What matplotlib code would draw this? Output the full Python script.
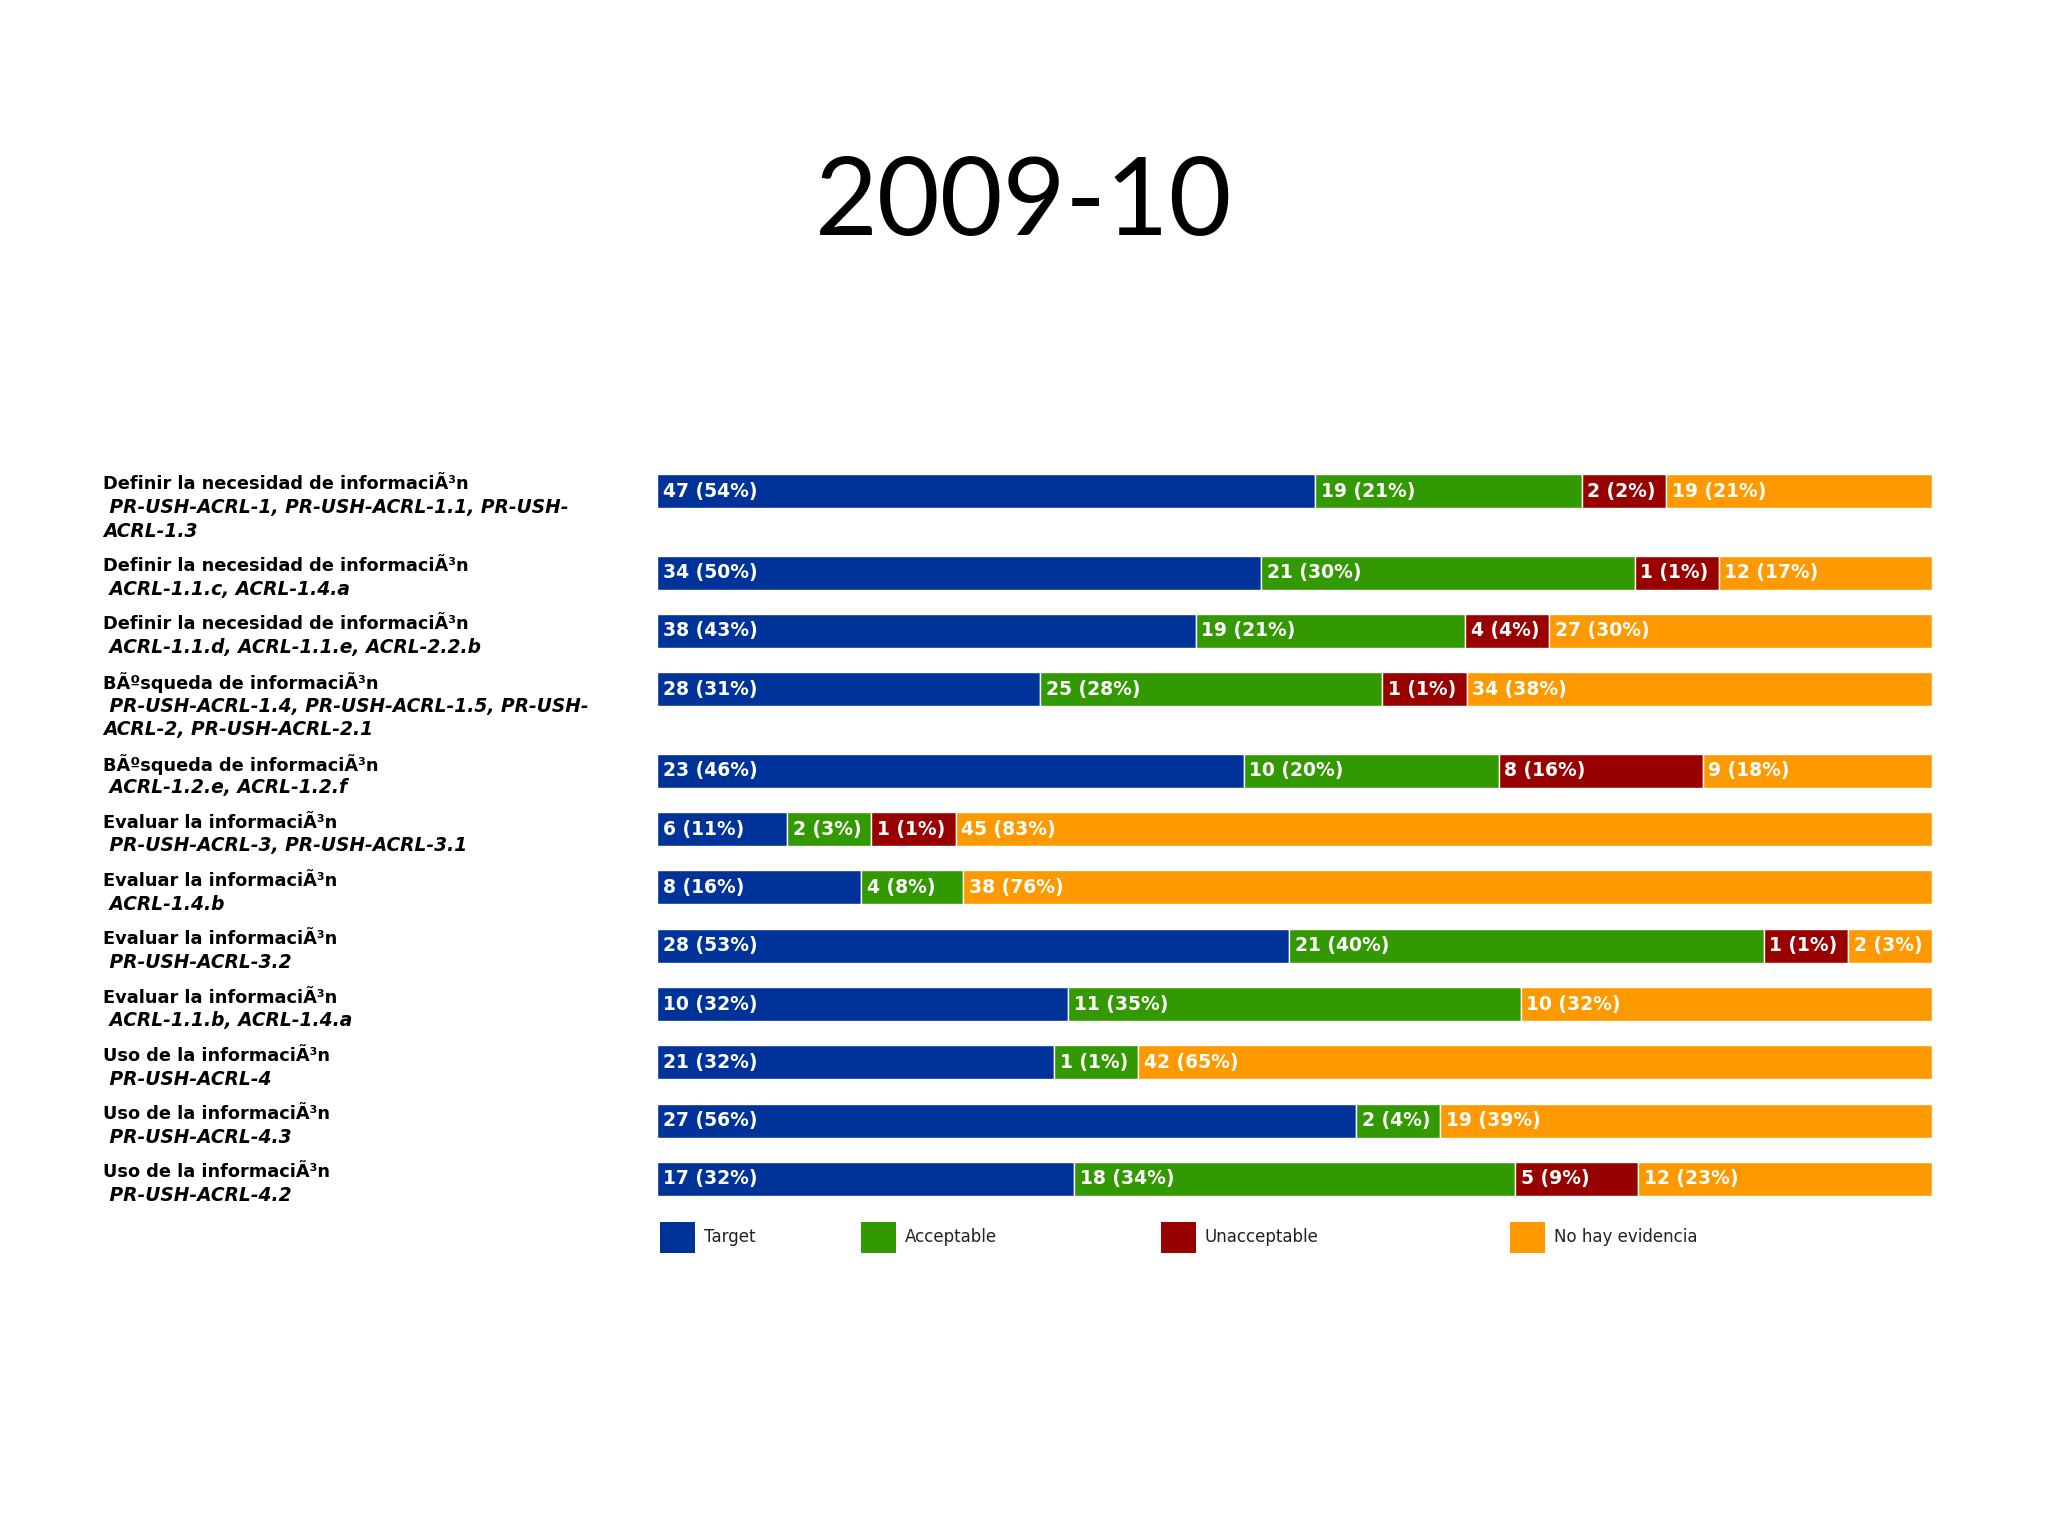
import numpy as np
import matplotlib
matplotlib.use("Agg")
import matplotlib.pyplot as plt
import matplotlib.transforms as mtransforms
from matplotlib.patches import Rectangle

# ---------------- data ----------------
title = "2009-10"
label_main = (["Definir la necesidad de informaciÃ³n"] * 3
              + ["BÃºsqueda de informaciÃ³n"] * 2
              + ["Evaluar la informaciÃ³n"] * 4
              + ["Uso de la informaciÃ³n"] * 3)
label_codes = [
    [" PR-USH-ACRL-1, PR-USH-ACRL-1.1, PR-USH-", "ACRL-1.3"],
    [" ACRL-1.1.c, ACRL-1.4.a"],
    [" ACRL-1.1.d, ACRL-1.1.e, ACRL-2.2.b"],
    [" PR-USH-ACRL-1.4, PR-USH-ACRL-1.5, PR-USH-", "ACRL-2, PR-USH-ACRL-2.1"],
    [" ACRL-1.2.e, ACRL-1.2.f"],
    [" PR-USH-ACRL-3, PR-USH-ACRL-3.1"],
    [" ACRL-1.4.b"],
    [" PR-USH-ACRL-3.2"],
    [" ACRL-1.1.b, ACRL-1.4.a"],
    [" PR-USH-ACRL-4"],
    [" PR-USH-ACRL-4.3"],
    [" PR-USH-ACRL-4.2"],
]
target       = [47, 34, 38, 28, 23, 6, 8, 28, 10, 21, 27, 17]
acceptable   = [19, 21, 19, 25, 10, 2, 4, 21, 11, 1, 2, 18]
unacceptable = [2, 1, 4, 1, 8, 1, 0, 1, 0, 0, 0, 5]
no_evidence  = [19, 12, 27, 34, 9, 45, 38, 2, 10, 42, 19, 12]
series_names = ["Target", "Acceptable", "Unacceptable", "No hay evidencia"]
colors = ["#003399", "#339900", "#990000", "#FF9900"]

# ---------------- layout ----------------
W, H = 2048, 1536
fig = plt.figure(figsize=(W / 100, H / 100), dpi=100)
fig.patch.set_facecolor("white")

fig.text(0.5, 1 - 205 / H, title, ha="center", va="center",
         fontsize=78, family=["Lato", "DejaVu Sans"], color="black")

L = 23.32            # pixels per label line (data unit)
row0_pix = 491
pix_top, pix_bot = 450, 1275
x_left_pix, x_right_pix = 657, 1932
ax = fig.add_axes([x_left_pix / W, 1 - pix_bot / H,
                   (x_right_pix - x_left_pix) / W, (pix_bot - pix_top) / H])
ax.set_xlim(0, 1)
ax.set_ylim((pix_bot - row0_pix) / L, (pix_top - row0_pix) / L)
ax.axis("off")

data = np.array([target, acceptable, unacceptable, no_evidence], dtype=float).T
n_lines = [1 + len(c) for c in label_codes]
centers = []
y = 0.0
for i, nl in enumerate(n_lines):
    centers.append(y)
    y += nl + 0.5
centers = np.array(centers)

min_frac = 0.066
bar_h = 34 / L
trans_fig_x = mtransforms.blended_transform_factory(fig.transFigure, ax.transData)

for i, counts in enumerate(data):
    total = counts.sum()
    frac = counts / total
    nz = counts > 0
    small = nz & (frac < min_frac)
    big = nz & ~small
    widths = np.zeros_like(frac)
    widths[small] = min_frac
    widths[big] = frac[big] / frac[big].sum() * (1 - min_frac * small.sum())
    left = 0.0
    for j in range(4):
        if counts[j] <= 0:
            continue
        ax.barh(centers[i], widths[j], left=left, height=bar_h,
                color=colors[j], edgecolor="white", linewidth=1.0)
        pct = int(np.floor(counts[j] / total * 100))
        ax.text(left + 0.0045, centers[i], f"{int(counts[j])} ({pct}%)",
                color="white", fontsize=13.5, fontweight="bold",
                family="DejaVu Sans", ha="left", va="center")
        left += widths[j]

    # labels
    ly = centers[i] - 0.28
    fig_x = 103 / W
    ax.text(fig_x, ly, label_main[i], transform=trans_fig_x, ha="left",
            va="center", fontsize=12.8, fontweight="bold", family="DejaVu Sans",
            color="black")
    for k, line in enumerate(label_codes[i]):
        ax.text(fig_x, ly + (k + 1), line, transform=trans_fig_x, ha="left",
                va="center", fontsize=13.4, fontweight="bold", style="italic",
                family="DejaVu Sans", color="black")

# ---------------- legend ----------------
leg_y = centers[-1] + 2.5
sq_w = 35 / (x_right_pix - x_left_pix)
sq_h = 31 / L
x = 3 / (x_right_pix - x_left_pix)
for name, c in zip(series_names, colors):
    ax.add_patch(Rectangle((x, leg_y - sq_h / 2), sq_w, sq_h, facecolor=c,
                           edgecolor="none", clip_on=False))
    ax.text(x + sq_w + 9 / (x_right_pix - x_left_pix), leg_y, name,
            ha="left", va="center", fontsize=12, family="DejaVu Sans",
            color="#222222")
    x += (52 + 24.8 * len(name)) / (x_right_pix - x_left_pix)

fig.savefig("out.png", dpi=100, facecolor="white")
